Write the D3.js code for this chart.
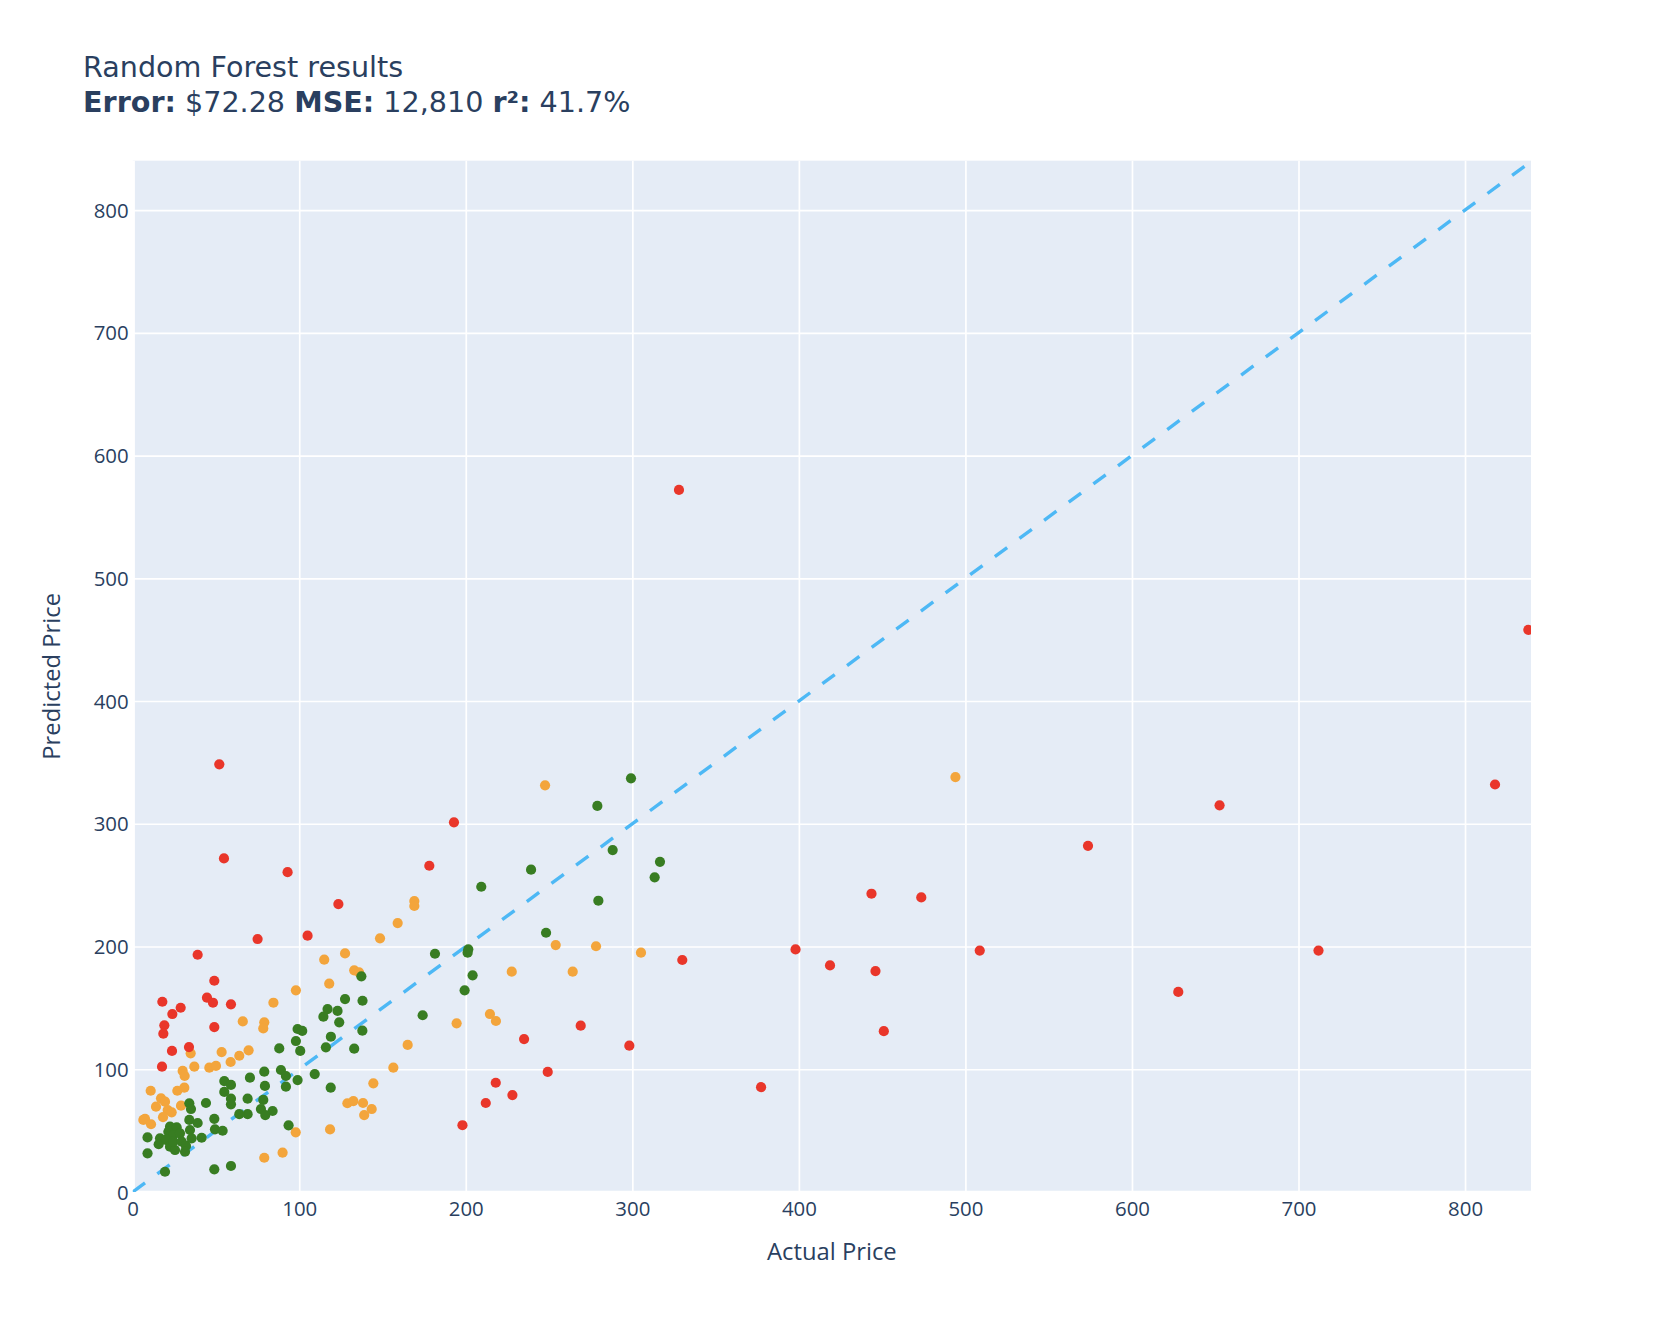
<!DOCTYPE html>
<html>
<head>
<meta charset="utf-8">
<script src="https://cdn.jsdelivr.net/npm/d3@7"></script>
<style>
  html, body { margin: 0; padding: 0; background: #fff; }
  svg { display: block; font-family: "Open Sans", verdana, arial, sans-serif; }
</style>
</head>
<body>
<svg id="chart" width="1664" height="1324"></svg>
<script>
// ---------- DATA ----------
const titleLine1 = "Random Forest results";
const metricLabels = ["Error:", "MSE:", "r²:"];
const metricValues = ["$72.28", "12,810", "41.7%"];
const xAxisTitle = "Actual Price";
const yAxisTitle = "Predicted Price";
const xTicks = [0, 100, 200, 300, 400, 500, 600, 700, 800];
const yTicks = [0, 100, 200, 300, 400, 500, 600, 700, 800];
const xDomain = [0, 839.6];
const yDomain = [0, 840.2];
const refLine = [[0, 0], [838, 838]];

// [actual, predicted] -- large error
const redPoints = [
  [328,572],[838,458],[52,348.4],[54.8,271.8],[93,260.6],[192.9,301.2],[178.1,265.8],
  [123.5,234.6],[105,208.8],[75,206.1],[39,193.3],[49,172.1],[44.6,158.3],[48.2,154.2],
  [59,152.9],[17.8,155],[28.8,150.1],[23.8,145],[19,135.8],[18.4,129],[49,134.4],
  [33.8,118.1],[23.6,114.9],[17.6,102.1],[818,332],[652.6,315],[573.6,282],[443.6,243],
  [473.5,240],[398,197.6],[508.6,196.7],[712,196.7],[418.7,184.6],[330,189],[446,180],
  [627.8,163],[269,135.5],[451,131],[235,124.6],[298.2,119.2],[249.2,97.8],[218,89],
  [228,79],[212,72.5],[198,54.4],[377.3,85.4]
];
// medium error
const orangePoints = [
  [247.6,331.3],[494,338],[169.1,237],[169.1,233],[159.1,219.1],[148.5,206.7],[127.5,194.4],
  [115,189.3],[133,180.6],[135.9,179],[118,169.7],[98,164.3],[84.5,154.2],[66.1,139],
  [79,138.2],[78.4,133.3],[69.6,115.4],[64,111],[58.8,105.9],[53.4,114],[34.8,113],
  [37,102.1],[46,101.3],[50,102.7],[30,98.6],[31.2,94.5],[10.8,82.5],[26.8,82.5],[31,85],
  [17,76.3],[19.4,73.6],[14,69.5],[29,70.3],[21,66.8],[23.4,64.9],[18.2,61],[6.4,58.7],
  [7.4,59.5],[11,55.2],[254,201.2],[278.2,200.2],[305.2,195],[227.6,179.5],[264.2,179.5],
  [214.5,145],[218.1,139.3],[194.5,137.4],[165.1,119.8],[156.5,101.3],[144.5,88.5],
  [128.9,72.3],[132.5,74.1],[138.3,72.5],[143.5,67.6],[139,62.7],[118.5,51],[97.9,48.6],
  [90,32],[79,27.9]
];
// small error
const greenPoints = [
  [299.2,337],[279,314.5],[288.2,278.6],[316.6,269],[313.4,256.4],[239.2,262.6],[209.3,248.7],
  [279.6,237.3],[248.2,211.2],[181.5,194.1],[201.5,197.7],[201.1,195],[204.1,176.5],
  [199.3,164.3],[174.1,144],[137.3,175.7],[127.5,157.2],[138,155.8],[117,149],[123,147.5],
  [114.5,142.8],[124,138.2],[99,132.8],[101.8,131.2],[137.9,131.4],[98,123],[119,126.5],
  [116,117.9],[133,116.8],[88,117],[100.6,114.9],[79,98],[89,99.4],[92,94.5],[70.4,93.1],
  [109.3,96.1],[99,91.2],[79.4,86.4],[92,85.8],[118.9,85],[55,90.4],[59,87.2],[55,81.5],
  [59,76],[59,71.4],[69,76],[78.4,75],[77,67.6],[84,66],[79.6,62.7],[69,63.4],[64,63.4],
  [44,72.5],[34,72.3],[35,67.6],[34,58.7],[39,56.2],[49,59.6],[93.6,54.3],[49.4,51.1],
  [54,49.9],[41.4,44.2],[8.9,44.5],[8.9,31.5],[16.4,43.7],[15.6,38.9],[19.4,16.5],
  [22.4,53.2],[26.4,52.7],[21.4,49.1],[24.4,46.4],[28.4,47.8],[20,42.4],[22.4,36.9],
  [25.4,34.2],[24.4,41],[29.4,41],[32,37.5],[31.4,32.8],[34.4,50.5],[35.4,43.7],
  [49,18.5],[59,21.2]
];

// ---------- LAYOUT ----------
const plot = { left: 132.7, top: 160.7, right: 1531, bottom: 1192 };
const textColor = "#2a3f5f";
const S = 1.7;
const titleFont = '"DejaVu Sans", Verdana, sans-serif';
const titleSize = 28.6;

const svg = d3.select("#chart");
const x = d3.scaleLinear().domain(xDomain).range([plot.left, plot.right]);
const y = d3.scaleLinear().domain(yDomain).range([plot.bottom, plot.top]);

svg.append("rect")
  .attr("x", plot.left).attr("y", plot.top)
  .attr("width", plot.right - plot.left).attr("height", plot.bottom - plot.top)
  .attr("fill", "#E5ECF6");

svg.append("clipPath").attr("id", "clip")
  .append("rect")
  .attr("x", plot.left).attr("y", plot.top)
  .attr("width", plot.right - plot.left).attr("height", plot.bottom - plot.top);

const gx = svg.append("g")
  .attr("transform", `translate(0,${plot.bottom})`)
  .call(d3.axisBottom(x).tickValues(xTicks).tickSize(-(plot.bottom - plot.top)).tickPadding(10).tickFormat(d3.format("d")));
gx.select(".domain").remove();
gx.selectAll(".tick line").attr("stroke", "#fff").attr("stroke-width", S);
gx.selectAll(".tick text")
  .attr("fill", textColor).attr("font-size", 20.4)
  .attr("font-family", '"Open Sans", verdana, arial, sans-serif')
  .attr("dy", null).attr("y", 24).attr("dominant-baseline", "alphabetic");

const gy = svg.append("g")
  .attr("transform", `translate(${plot.left},0)`)
  .call(d3.axisLeft(y).tickValues(yTicks).tickSize(-(plot.right - plot.left)).tickPadding(4).tickFormat(d3.format("d")));
gy.select(".domain").remove();
gy.selectAll(".tick line").attr("stroke", "#fff").attr("stroke-width", S);
gy.selectAll(".tick text")
  .attr("fill", textColor).attr("font-size", 20.4)
  .attr("font-family", '"Open Sans", verdana, arial, sans-serif')
  .attr("dy", "0.35em").attr("x", -4);

gx.selectAll(".tick").filter(d => d === 0).select("line").attr("stroke-width", S * 2);
gy.selectAll(".tick").filter(d => d === 0).select("line").attr("stroke-width", S * 2);

const plotG = svg.append("g").attr("clip-path", "url(#clip)");

plotG.append("path")
  .datum(refLine)
  .attr("d", d3.line().x(d => x(d[0])).y(d => y(d[1])))
  .attr("fill", "none")
  .attr("stroke", "#4DB8F5")
  .attr("stroke-width", 2 * S)
  .attr("stroke-dasharray", `${9 * S},${9 * S}`);

function drawPoints(data, color) {
  plotG.append("g").selectAll("circle")
    .data(data).join("circle")
    .attr("cx", d => x(d[0])).attr("cy", d => y(d[1]))
    .attr("r", 3 * S)
    .attr("fill", color);
}
drawPoints(orangePoints, "#F3A53C");
drawPoints(greenPoints, "#387D22");
drawPoints(redPoints, "#E9362A");

// titles
svg.append("text")
  .attr("x", 83).attr("y", 77)
  .attr("fill", textColor).attr("font-size", titleSize)
  .attr("font-family", titleFont)
  .text(titleLine1);

const spaceW = titleSize * 0.318;
let cx = 83;
const pieces = [];
metricLabels.forEach((lab, i) => {
  pieces.push({ t: lab, bold: true });
  pieces.push({ t: metricValues[i], bold: false });
});
pieces.forEach(p => {
  const t = svg.append("text")
    .attr("x", cx).attr("y", 112)
    .attr("fill", textColor).attr("font-size", titleSize)
    .attr("font-family", titleFont)
    .attr("font-weight", p.bold ? "bold" : "normal")
    .text(p.t);
  cx += t.node().getComputedTextLength() + spaceW;
});

svg.append("text")
  .attr("x", (plot.left + plot.right) / 2).attr("y", 1260)
  .attr("text-anchor", "middle")
  .attr("fill", textColor).attr("font-size", 23.8)
  .text(xAxisTitle);

svg.append("text")
  .attr("transform", `translate(59.5,${(plot.top + plot.bottom) / 2}) rotate(-90)`)
  .attr("text-anchor", "middle")
  .attr("fill", textColor).attr("font-size", 23.8)
  .text(yAxisTitle);
</script>
</body>
</html>
